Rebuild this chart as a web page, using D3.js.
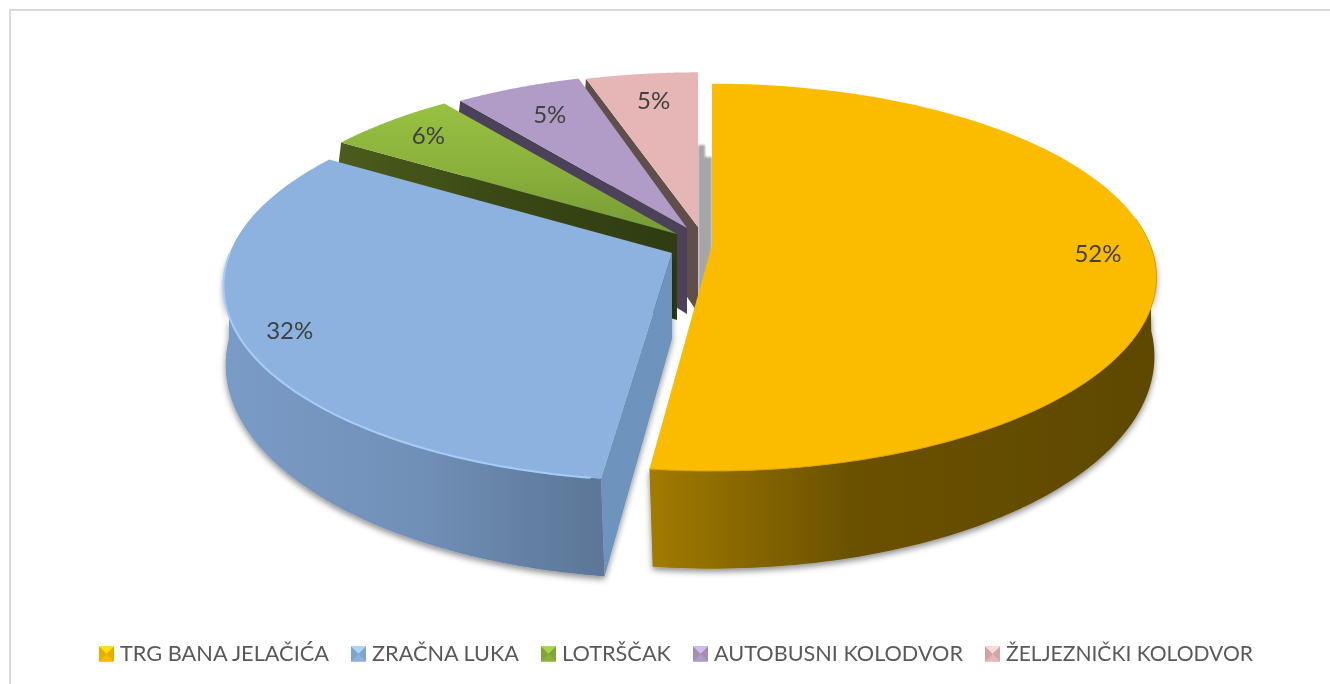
<!DOCTYPE html>
<meta charset="utf-8">
<style>

body {
  background: #fff;
  margin: 0;
}

svg {
  filter: blur(.5px);
}

text {
  font-family: Lato, "Open Sans", sans-serif;
}

.label {
  fill: #404040;
  font-size: 24px;
  text-anchor: middle;
  dominant-baseline: central;
}

.legend text {
  fill: #595959;
  font-size: 21.5px;
  dominant-baseline: central;
}

</style>
<body>
<script src="https://d3js.org/d3.v7.min.js"></script>
<script>

// chart values
var categories = ["TRG BANA JELAČIĆA", "ZRAČNA LUKA", "LOTRŠČAK", "AUTOBUSNI KOLODVOR", "ŽELJEZNIČKI KOLODVOR"];
var shares = [51.9, 32.1, 5.6, 5.4, 5];
var shareLabels = ["52%", "32%", "6%", "5%", "5%"];

var topColors = ["#fbbc00", "#8db2e0", "#8cb33f", "#b09cc6", "#e5b6b5"];
var cutColors = [null, "#6e93bd", "#3a4716", "#4b4259", "#604e4c"];

var width = 1330,
    height = 684;

// every slice is pulled out by its own amount, the far ones are a bit smaller
var apexX = [712, 672, 677, 687, 698],
    apexY = [245, 253, 234, 228, 227],
    shrink = [.996, 1.005, .985, .96, .955],
    labelR = [.87, .9, .83, .83, .8],
    labelNudge = [[2, -2], [2, -2], [-6, -4], [8, 4], [2, -2]];

// perspective opens the cut edges a little, in radians
var startNudge = [0, .015, 0, 0, 0],
    endNudge = [0, 0, 0, .012, 0];

var depth = 86;
var topRim = {rx: 440, ry: 189, k: .167, dy: 0},
    bottomRim = {rx: 441, ry: 210, k: .12, dy: depth};

// legend text widths
var legendWidths = [209, 147, 109, 249, 247];

function project(i, angle, r, rim) {
  var u = Math.sin(angle) * r,
      v = Math.cos(angle) * r,
      w = 1 + rim.k * v;
  return [
    apexX[i] + shrink[i] * rim.rx * u / w,
    apexY[i] + rim.dy - shrink[i] * rim.ry * v / w
  ];
}

function arcPoints(i, a0, a1, rim) {
  return d3.range(0, 1.0001, .01).map(function(t) {
    return project(i, a0 + (a1 - a0) * t, 1, rim);
  });
}

var line = d3.line();

var svg = d3.select("body").append("svg")
    .attr("width", width)
    .attr("height", height)
    .style("display", "block");

var defs = svg.append("defs");

function gradient(id, x1, y1, x2, y2, stops) {
  var g = defs.append("linearGradient")
      .attr("id", id)
      .attr("gradientUnits", "userSpaceOnUse")
      .attr("x1", x1).attr("y1", y1)
      .attr("x2", x2).attr("y2", y2);
  stops.forEach(function(s) {
    g.append("stop").attr("offset", s[0]).attr("stop-color", s[1]);
  });
}

gradient("wall0", 650, 0, 1150, 0, [[0, "#a27b00"], [.1, "#947000"], [.4, "#6b5100"], [1, "#5e4900"]]);
gradient("wall1", 230, 0, 604, 0, [[0, "#7a9bc6"], [.5, "#7190b8"], [1, "#5b7696"]]);
gradient("top2", 0, 105, 0, 235, [[0, "#98c141"], [.5, "#8ab03c"], [1, "#769a36"]]);
gradient("cut2", 340, 0, 677, 0, [[0, "#4b5c1c"], [.5, "#394814"], [1, "#2f3b12"]]);

var soft = defs.append("filter")
    .attr("id", "soft")
    .attr("x", "-10%").attr("y", "-10%")
    .attr("width", "120%").attr("height", "120%");
soft.append("feDropShadow")
    .attr("dx", 0).attr("dy", 3)
    .attr("stdDeviation", 3)
    .attr("flood-color", "#000")
    .attr("flood-opacity", .45);

var blur = defs.append("filter").attr("id", "blur");
blur.append("feGaussianBlur").attr("stdDeviation", .8);

var slices = d3.pie().sort(null)(shares);

// frame, only top and left sides show
svg.append("path")
    .attr("d", line([[10, height + 5], [10, 10], [width + 5, 10]]))
    .attr("fill", "none")
    .attr("stroke", "#d9d9d9")
    .attr("stroke-width", 2);

// grey shade in the gap behind the pink and the yellow slice
var gap = svg.append("g").attr("filter", "url(#blur)").attr("fill", "#a6a6a6");
gap.append("rect")
    .attr("x", apexX[4]).attr("y", apexY[4] - 82)
    .attr("width", 7).attr("height", 150);
gap.append("rect")
    .attr("x", apexX[4] + 7).attr("y", apexY[4] - 70)
    .attr("width", apexX[0] - apexX[4] - 7).attr("height", 140);

// back to front: pink, purple, green, blue, yellow
var order = [4, 3, 2, 1, 0];

order.forEach(function(i) {
  var d = slices[i],
      a0 = d.startAngle + startNudge[i],
      a1 = d.endAngle + endNudge[i],
      g = svg.append("g");

  var walls = g.append("g").attr("filter", (i < 2) ? "url(#soft)" : null);

  // outer curved wall, the three far slices keep it hidden
  if (i < 2) {
    var from = i === 0 ? Math.PI / 2 : a0,
        to = i === 0 ? a1 : 1.5 * Math.PI;
    var outer = arcPoints(i, from, to, topRim)
        .concat(arcPoints(i, from, to, bottomRim).reverse());
    walls.append("path")
        .attr("d", line(outer) + "Z")
        .attr("fill", "url(#wall" + i + ")");
  }

  // flat cut along the start angle
  if (cutColors[i]) {
    var cut = [
      project(i, a0, 0, topRim),
      project(i, a0, 1, topRim),
      project(i, a0, 1, bottomRim),
      project(i, a0, 0, bottomRim)
    ];
    walls.append("path")
        .attr("d", line(cut) + "Z")
        .attr("fill", i === 2 ? "url(#cut2)" : cutColors[i]);
  }

  // top face
  var face = [project(i, 0, 0, topRim)].concat(arcPoints(i, a0, a1, topRim));
  g.append("path")
      .attr("d", line(face) + "Z")
      .attr("fill", i === 2 ? "url(#top2)" : topColors[i]);

  // lit edge on the rim of the two big slices
  if (i < 2) {
    g.append("path")
        .attr("d", line(arcPoints(i, i === 0 ? Math.PI / 2.2 : a0 + .02, i === 0 ? a1 : 1.5 * Math.PI, topRim)))
        .attr("fill", "none")
        .attr("stroke", i === 0 ? "#d9a300" : "#a6cdf8")
        .attr("stroke-width", i === 0 ? 1 : 2);
  }
});

// percent labels
svg.selectAll(".label")
    .data(slices)
  .enter().append("text")
    .attr("class", "label")
    .attr("transform", function(d, i) {
      var p = project(i, (d.startAngle + d.endAngle) / 2, labelR[i], topRim);
      return "translate(" + [p[0] + labelNudge[i][0], p[1] + labelNudge[i][1]] + ")";
    })
    .text(function(d, i) { return shareLabels[i]; });

// legend
var legendLeft = 99,
    legendY = 653,
    box = 15,
    boxGap = 6,
    itemGap = 22;

var legend = svg.append("g").attr("class", "legend");
var cursor = legendLeft;

categories.forEach(function(name, i) {
  var item = legend.append("g").attr("transform", "translate(" + cursor + "," + (legendY - box / 2 + 1) + ")");
  var c = d3.color(topColors[i]),
      m = [box / 2, box / 2],
      corners = [[0, 0], [box, 0], [box, box], [0, box]],
      shades = [c.brighter(.5), c.darker(.25), c, c.darker(.25)];

  // small bevelled square
  item.append("rect")
      .attr("width", box)
      .attr("height", box)
      .attr("fill", c.darker(.25) + "");
  shades.forEach(function(s, j) {
    item.append("path")
        .attr("d", line([corners[j], corners[(j + 1) % 4], m]) + "Z")
        .attr("fill", s + "");
  });

  item.append("text")
      .attr("x", box + boxGap)
      .attr("y", box / 2 - 1)
      .attr("textLength", legendWidths[i])
      .attr("lengthAdjust", "spacingAndGlyphs")
      .text(name);

  cursor += box + boxGap + legendWidths[i] + itemGap;
});

</script>
